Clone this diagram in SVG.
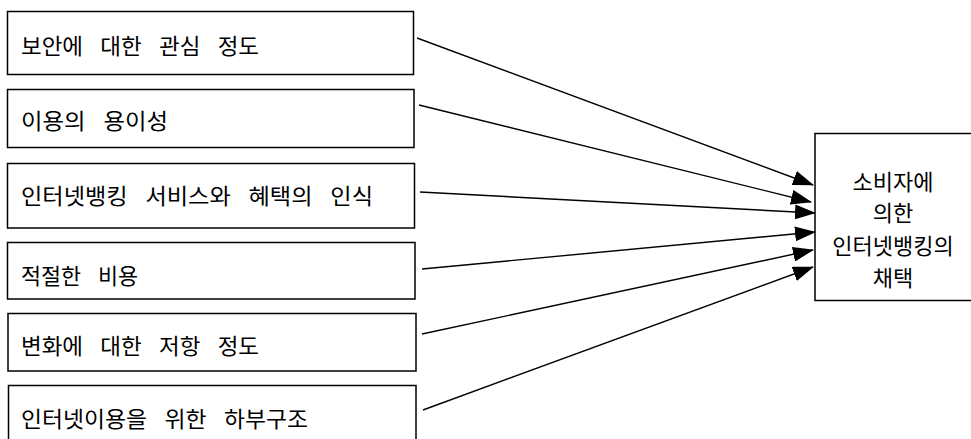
<svg xmlns="http://www.w3.org/2000/svg" width="971" height="439" viewBox="0 0 971 439">
<style>
.box{fill:#fff;stroke:#000;stroke-width:1.5}
.t{font-family:"Noto Sans CJK KR","Noto Sans",sans-serif;font-size:22px;fill:#000;dominant-baseline:central;word-spacing:12px}
.c{text-anchor:middle;word-spacing:0}
.ln{stroke:#000;stroke-width:1.4;fill:none;marker-end:url(#ah)}
</style>
<defs>
<marker id="ah" markerUnits="userSpaceOnUse" markerWidth="21" markerHeight="15" refX="20" refY="7.5" orient="auto">
<path d="M0,0 L21,7.5 L0,15 Z" fill="#000"/>
</marker>
</defs>
<rect width="971" height="439" fill="#fff"/>
<g id="n1"><rect class="box" x="7.5" y="11.5" width="406" height="63"/><text class="t" x="21" y="44" textLength="238" lengthAdjust="spacingAndGlyphs">보안에 대한 관심 정도</text></g>
<g id="n2"><rect class="box" x="7.5" y="89.5" width="406.5" height="58"/><text class="t" x="21" y="119" textLength="147" lengthAdjust="spacingAndGlyphs">이용의 용이성</text></g>
<g id="n3"><rect class="box" x="7.5" y="163.5" width="407" height="64.5"/><text class="t" x="21" y="193.5" textLength="352" lengthAdjust="spacingAndGlyphs">인터넷뱅킹 서비스와 혜택의 인식</text></g>
<g id="n4"><rect class="box" x="7.5" y="242.5" width="407.5" height="56.5"/><text class="t" x="21" y="274" textLength="117" lengthAdjust="spacingAndGlyphs">적절한 비용</text></g>
<g id="n5"><rect class="box" x="8" y="313.5" width="408" height="57.5"/><text class="t" x="21" y="343.5" textLength="238" lengthAdjust="spacingAndGlyphs">변화에 대한 저항 정도</text></g>
<g id="n6"><rect class="box" x="8.5" y="385.5" width="407.5" height="60"/><text class="t" x="21" y="417" textLength="287" lengthAdjust="spacingAndGlyphs">인터넷이용을 위한 하부구조</text></g>
<g id="n7"><rect class="box" x="815" y="133.5" width="170" height="167"/>
<text class="t c" x="893" y="180">소비자에</text>
<text class="t c" x="893" y="211">의한</text>
<text class="t c" x="893" y="243.5">인터넷뱅킹의</text>
<text class="t c" x="893" y="276">채택</text>
</g>
<g id="connectors">
<line class="ln" x1="417" y1="38" x2="813" y2="185"/>
<line class="ln" x1="419" y1="105" x2="811" y2="202"/>
<line class="ln" x1="420" y1="192" x2="815" y2="213"/>
<line class="ln" x1="422" y1="269" x2="815" y2="232"/>
<line class="ln" x1="422" y1="334" x2="813" y2="250"/>
<line class="ln" x1="423" y1="410" x2="813" y2="267"/>
</g>
</svg>
